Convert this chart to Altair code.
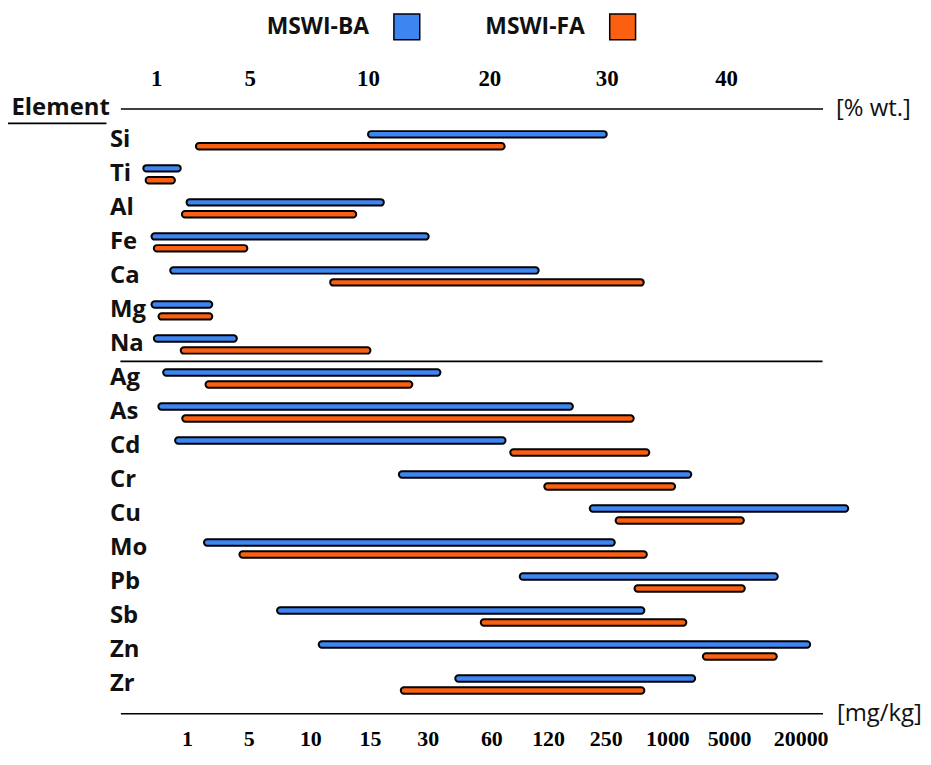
import altair as alt
import pandas as pd

SERIES = ["MSWI-BA", "MSWI-FA"]
COLORS = ["#3D86F2", "#FA5F12"]

# Major elements, % wt.
MAJOR = ["Si", "Ti", "Al", "Fe", "Ca", "Mg", "Na"]
MAJOR_BA_MIN = [10, 0.45, 2.3, 0.8, 1.6, 0.8, 0.9]
MAJOR_BA_MAX = [30, 2.05, 11.3, 15, 24.2, 3.4, 4.45]
MAJOR_FA_MIN = [2.7, 0.55, 2.1, 0.9, 8.4, 1.1, 2.05]
MAJOR_FA_MAX = [21.3, 1.8, 9.5, 4.9, 33.1, 3.4, 10.2]

# Trace elements, mg/kg
TRACE = ["Ag", "As", "Cd", "Cr", "Cu", "Mo", "Pb", "Sb", "Zn", "Zr"]
TRACE_BA_MIN = [0.5, 0.4, 0.75, 22.5, 214, 2.1, 90, 7.3, 10.7, 43]
TRACE_BA_MAX = [36, 176, 75, 2550, 30000, 360, 15200, 720, 22000, 2800]
TRACE_FA_MIN = [2.2, 0.9, 80, 116, 370, 4.4, 600, 55, 3300, 23]
TRACE_FA_MAX = [26, 590, 780, 1500, 8100, 750, 8300, 2230, 15000, 720]

TOP_TICKS = [1, 5, 10, 20, 30, 40]
BOTTOM_TICKS = [1, 5, 10, 15, 30, 60, 120, 250, 1000, 5000, 20000]


def long_table(names, ba_min, ba_max, fa_min, fa_max):
    rows = []
    for i, n in enumerate(names):
        rows.append({"element": n, "series": SERIES[0], "start": ba_min[i], "end": ba_max[i]})
        rows.append({"element": n, "series": SERIES[1], "start": fa_min[i], "end": fa_max[i]})
    return pd.DataFrame(rows)


major_df = long_table(MAJOR, MAJOR_BA_MIN, MAJOR_BA_MAX, MAJOR_FA_MIN, MAJOR_FA_MAX)
trace_df = long_table(TRACE, TRACE_BA_MIN, TRACE_BA_MAX, TRACE_FA_MIN, TRACE_FA_MAX)

W, H = 706, 608
SANS = "Open Sans"
SERIF = "Liberation Serif"

# piecewise (non-uniform) axis scales as in the original figure
top_scale = alt.Scale(domain=[-0.53, 1, 5, 10, 20, 30, 40, 48.1],
                      range=[0, 36, 130, 249, 371, 489, 609, W], nice=False, zero=False)
bottom_scale = alt.Scale(domain=[-0.4, 0, 1, 5, 10, 15, 30, 60, 120, 250, 1000, 5000, 20000, 24600],
                         range=[0, 19, 67, 129, 191, 251, 309, 373, 430, 488, 550, 612, 684, W],
                         nice=False, zero=False)


def y_enc(**kw):
    return alt.Y(
        "element:N",
        scale=alt.Scale(domain=MAJOR + TRACE, paddingInner=0, paddingOuter=0.39, align=0.56),
        axis=alt.Axis(title="Element", orient="left", ticks=False, tickSize=0, domain=False,
                      labelAlign="left", labelPadding=11, labelBaseline="middle",
                      labelFont=SANS, labelFontWeight="bold", labelFontSize=24, labelColor="#111",
                      titleFont=SANS, titleFontWeight="bold", titleFontSize=24, titleColor="#111",
                      titleAngle=0, titleAlign="left", titleBaseline="alphabetic",
                      titleX=-110, titleY=6, grid=False),
        **kw,
    )


yoff = alt.YOffset("series:N", scale=alt.Scale(domain=SERIES, paddingInner=0.46, paddingOuter=0.65))

color = alt.Color(
    "series:N",
    scale=alt.Scale(domain=SERIES, range=COLORS),
    legend=alt.Legend(title=None, orient="none", legendX=274, legendY=-96, direction="horizontal",
                      symbolType="square", symbolSize=676, symbolStrokeColor="black",
                      symbolStrokeWidth=1.5, symbolOpacity=1,
                      labelFont=SANS, labelFontWeight="bold", labelFontSize=23, labelColor="#111",
                      labelAlign="right", labelOffset={"expr": "-52"}, columnPadding=62, padding=0),
)


def x_axis(orient, ticks, title, pad, tx, fs):
    return alt.Axis(orient=orient, values=ticks, format="d", title=title, ticks=False, tickSize=0,
                    domainColor="black", domainWidth=1.6, labelFont=SERIF, labelFontWeight="bold",
                    labelFontSize=fs, labelColor="black", labelPadding=pad, labelFlush=False,
                    labelOverlap=False, grid=False,
                    titleFont=SANS, titleFontWeight="normal", titleFontSize=24, titleColor="#111",
                    titleX=tx, titleY=0, titleAlign="left", titleBaseline="middle", titleAngle=0)


bar_mark = dict(cornerRadius=3.2, stroke="black", strokeWidth=2)

top_bars = alt.Chart(major_df).mark_bar(**bar_mark).encode(
    x=alt.X("start:Q", scale=top_scale, axis=x_axis("top", TOP_TICKS, "[% wt.]", 18, 719, 23)),
    x2="end:Q",
    y=y_enc(),
    yOffset=yoff,
    color=color,
)

bottom_bars = alt.Chart(trace_df).mark_bar(**bar_mark).encode(
    x=alt.X("start:Q", scale=bottom_scale, axis=x_axis("bottom", BOTTOM_TICKS, "[mg/kg]", 15, 720, 22)),
    x2="end:Q",
    y=y_enc(),
    yOffset=yoff,
    color=color,
)

separator = alt.Chart(pd.DataFrame({"element": [TRACE[0]]})).mark_rule(color="black", strokeWidth=1.6).encode(
    y=y_enc(bandPosition=0),
    x=alt.value(0),
    x2=alt.value(W),
)

underline = alt.Chart(pd.DataFrame({"a": [0]})).mark_rule(color="black", strokeWidth=1.6).encode(
    x=alt.value(-113),
    x2=alt.value(-14),
    y=alt.value(15),
)

chart = (
    alt.layer(top_bars, bottom_bars, separator, underline)
    .resolve_scale(x="independent")
    .properties(width=W, height=H,
                autosize=alt.AutoSizeParams(type="none"),
                padding={"left": 113, "top": 99, "right": 101, "bottom": 37})
    .configure_view(stroke=None)
)

chart.save("out.html", embed_options={"renderer": "svg", "actions": False})
